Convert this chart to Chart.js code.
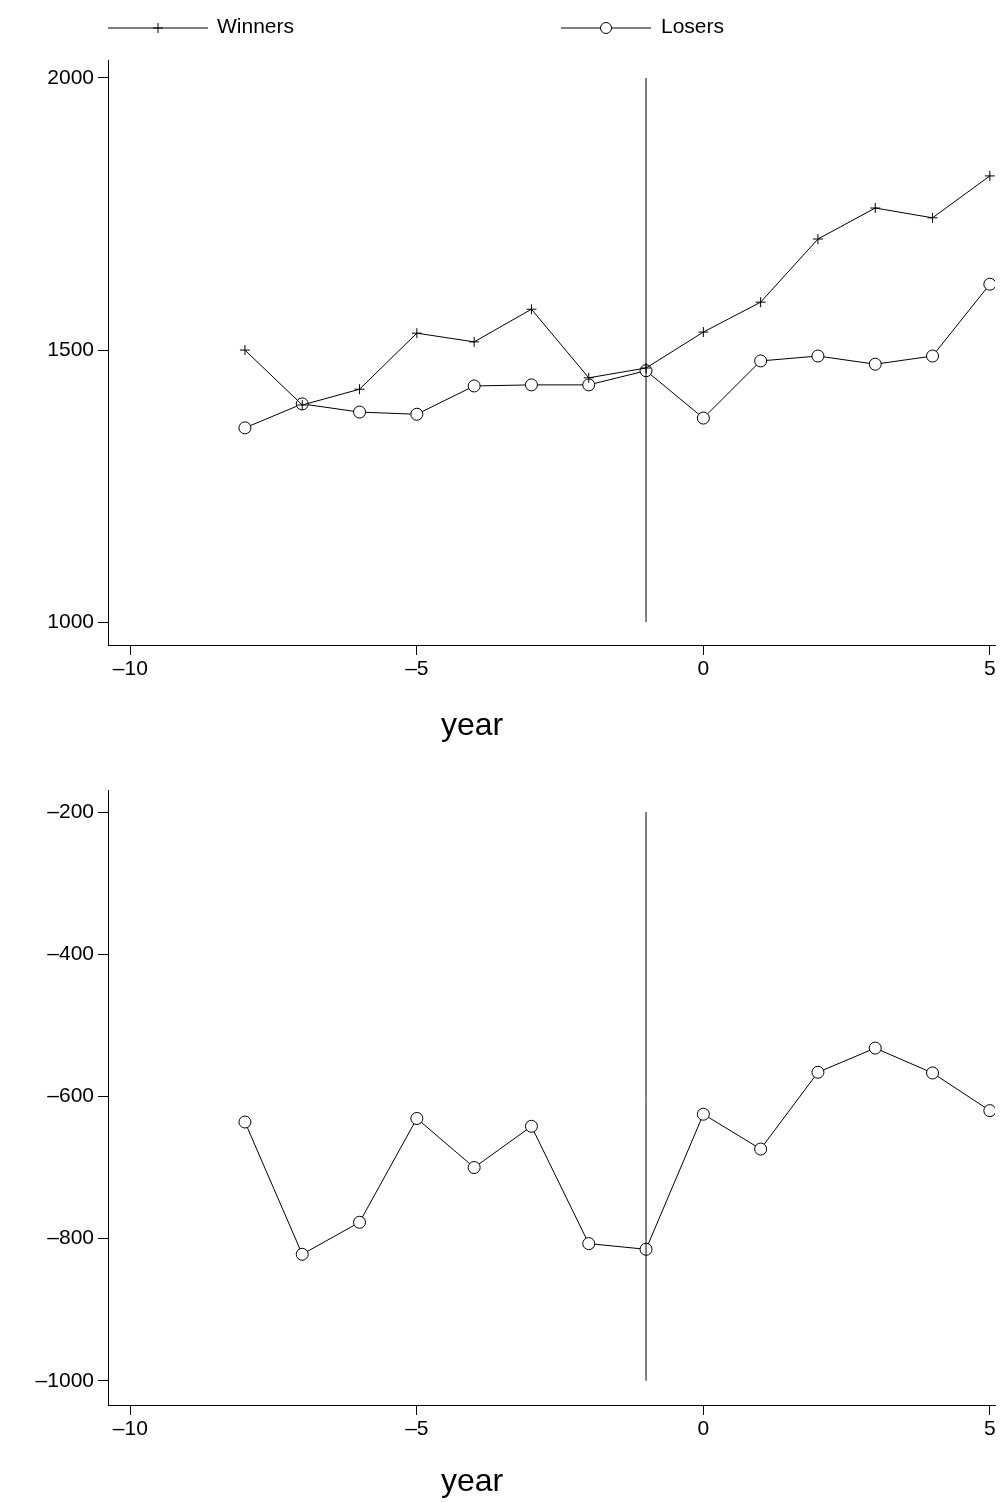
<!DOCTYPE html>
<html><head><meta charset="utf-8">
<script src="https://cdn.jsdelivr.net/npm/chart.js@4"></script>
<style>
body{margin:0;background:#fff;font-family:"Liberation Sans",Arial,sans-serif;}
#wrap{position:relative;width:1002px;height:1502px;}
canvas{position:absolute;left:0;}
.leg{position:absolute;top:14px;font-size:21px;}
.ttl{position:absolute;font-size:32px;width:200px;text-align:center;}
</style></head><body>
<div id="wrap">
<canvas id="top" width="1002" height="760" style="top:0"></canvas>
<canvas id="bot" width="1002" height="742" style="top:760px"></canvas>
<svg style="position:absolute;left:0;top:0" width="1002" height="60">
 <line x1="108" y1="28" x2="208" y2="28" stroke="#000" stroke-width="1"/>
 <line x1="153" y1="28" x2="163" y2="28" stroke="#000"/><line x1="158" y1="23" x2="158" y2="33" stroke="#000"/>
 <line x1="561" y1="28" x2="651" y2="28" stroke="#000" stroke-width="1"/>
 <circle cx="606" cy="28" r="5.5" fill="#fff" stroke="#000"/>
</svg>
<div class="leg" style="left:217px">Winners</div>
<div class="leg" style="left:661px">Losers</div>
<div class="ttl" style="left:372px;top:706px">year</div>
<div class="ttl" style="left:372px;top:1462px">year</div>
</div>
<script>
var years = [-8,-7,-6,-5,-4,-3,-2,-1,0,1,2,3,4,5];
var winners = [1500,1399,1428,1531,1515,1575,1449,1467,1533,1588,1704,1761,1743,1820];
var losers = [1357,1401,1386,1382,1434,1436,1436,1462,1375,1480,1489,1474,1489,1621];
var diff = [-636,-822,-777,-631,-700,-642,-807,-815,-625,-674,-566,-532,-567,-620];
var xTicks = [-10,-5,0,5];
var yTicksTop = [1000,1500,2000];
var yTicksBot = [-1000,-800,-600,-400,-200];

function pts(ys){ return years.map(function(x,i){return {x:x,y:ys[i]};}); }
function fmt(v){ return String(v).replace('-','\u2013'); }

function makeChart(id, datasets, ymin, ymax, yticks, padTop, xH){
  var ctx = document.getElementById(id).getContext('2d');
  return new Chart(ctx, {
    type:'scatter',
    data:{datasets:datasets},
    options:{
      responsive:false, animation:false,
      layout:{padding:{top:padTop,right:0,left:0,bottom:0}},
      plugins:{legend:{display:false},tooltip:{enabled:false}},
      scales:{
        x:{type:'linear',min:-10.39,max:5.09,
           afterBuildTicks:function(s){s.ticks=xTicks.map(function(v){return {value:v};});},
           afterFit:function(s){s.height=xH;},
           grid:{display:true,drawOnChartArea:false,drawTicks:true,tickLength:10,tickColor:'#000'},
           border:{color:'#000',width:1},
           ticks:{color:'#000',font:{size:21,family:'Liberation Sans'},padding:2,callback:fmt}},
        y:{type:'linear',min:ymin,max:ymax,
           afterBuildTicks:function(s){s.ticks=yticks.map(function(v){return {value:v};});},
           afterFit:function(s){s.width=108;},
           grid:{display:true,drawOnChartArea:false,drawTicks:true,tickLength:10,tickColor:'#000'},
           border:{color:'#000',width:1},
           ticks:{color:'#000',font:{size:21,family:'Liberation Sans'},padding:4,callback:fmt}}
      }
    }
  });
}

var lineStyle = {showLine:true,borderColor:'#000',borderWidth:1,pointBorderColor:'#000',pointBackgroundColor:'#fff',pointBorderWidth:1};

makeChart('top', [
  Object.assign({data:[{x:-1,y:1000},{x:-1,y:2000}],pointRadius:0},lineStyle),
  Object.assign({data:pts(winners),pointStyle:'cross',pointRadius:5},lineStyle),
  Object.assign({data:pts(losers),pointStyle:'circle',pointRadius:6},lineStyle)
], 958, 2033, yTicksTop, 60, 115);

makeChart('bot', [
  Object.assign({data:[{x:-1,y:-1000},{x:-1,y:-200}],pointRadius:0},lineStyle),
  Object.assign({data:pts(diff),pointStyle:'circle',pointRadius:6},lineStyle)
], -1034, -169, yTicksBot, 30, 97);
</script>
</body></html>
